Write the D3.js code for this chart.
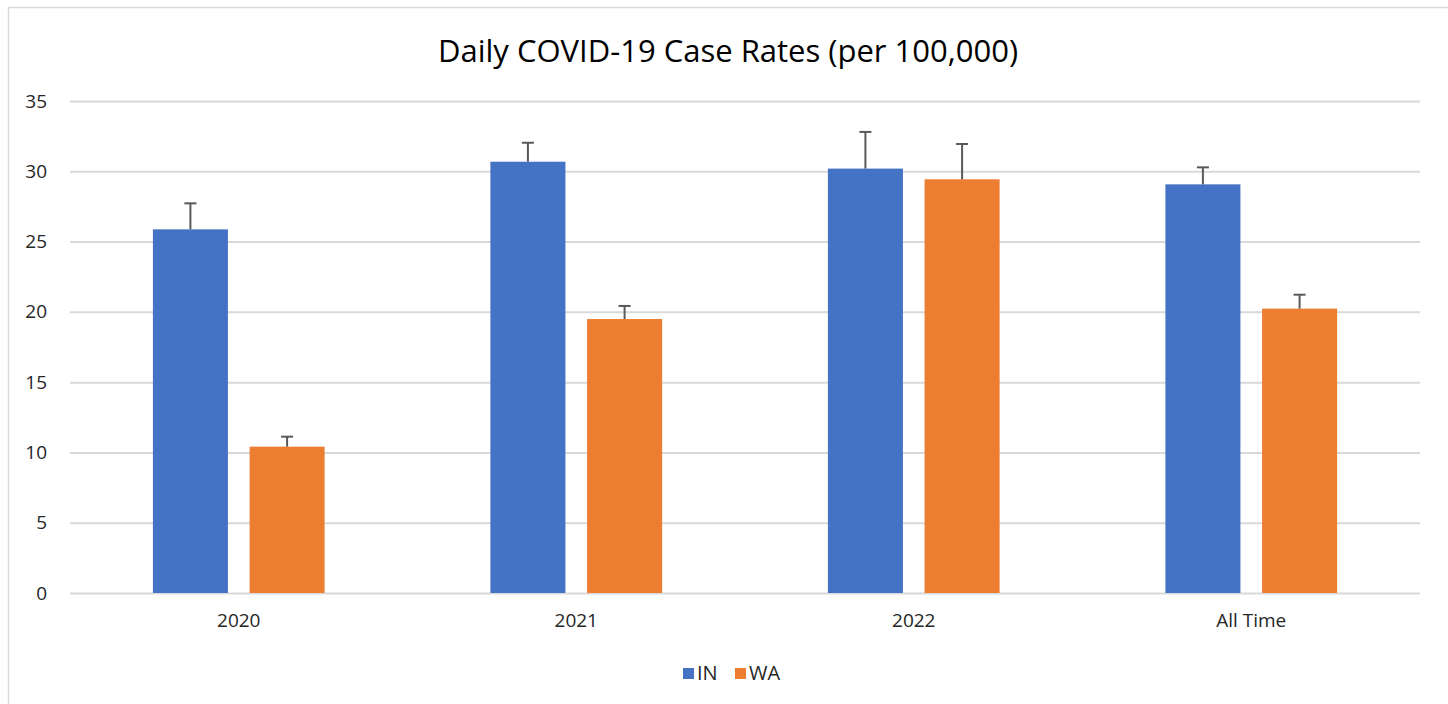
<!DOCTYPE html>
<html><head><meta charset="utf-8">
<script src="https://cdn.jsdelivr.net/npm/d3@7"></script>
<style>body{margin:0;background:#fff}svg{display:block}</style>
</head><body>
<svg id="c" width="1448" height="704"></svg>
<script>
const categories = ["2020", "2021", "2022", "All Time"];
const seriesNames = ["IN", "WA"];
const inValues = [25.87, 30.68, 30.19, 29.07];
const waValues = [10.41, 19.49, 29.43, 20.23];
const inErrors = [1.85, 1.35, 2.61, 1.21];
const waErrors = [0.71, 0.93, 2.51, 0.99];
const yTicks = [0, 5, 10, 15, 20, 25, 30, 35];
const colors = ["#4472c4", "#ed7d31"];
const title = "Daily COVID-19 Case Rates (per 100,000)";

(function () {
const font = "Open Sans, sans-serif";
const svg = d3.select("#c");
const W = 1448, H = 704;
const pLeft = 70, pRight = 1420, pTop = 101, pBottom = 593;

// chart border
svg.append("rect").attr("x", 8.5).attr("y", 7.5).attr("width", W).attr("height", H)
  .attr("fill", "#fff").attr("stroke", "#d9d9d9").attr("stroke-width", 1.5);

const y = d3.scaleLinear().domain([0, 35]).range([pBottom, pTop]);
const x0 = d3.scaleBand().domain(categories).range([pLeft, pRight]).padding(0);
const groupW = 171.7;
const x1 = d3.scaleBand().domain(seriesNames)
  .range([(x0.bandwidth() - groupW) / 2, (x0.bandwidth() + groupW) / 2])
  .paddingInner(0.224).paddingOuter(0);

// gridlines
const yAxis = d3.axisLeft(y).tickValues(yTicks).tickSize(-(pRight - pLeft)).tickPadding(23).tickFormat(d3.format("d"));
const gy = svg.append("g").attr("transform", `translate(${pLeft},0)`).call(yAxis);
gy.select(".domain").remove();
gy.selectAll(".tick line").attr("stroke", "#d9d9d9").attr("stroke-width", 2);
gy.selectAll(".tick text").attr("font-family", font).attr("font-size", 19).attr("fill", "#262626");

// x axis labels
const xAxis = d3.axisBottom(x0).tickSize(0).tickPadding(21);
const gx = svg.append("g").attr("transform", `translate(0,${pBottom})`).call(xAxis);
gx.select(".domain").remove();
gx.selectAll(".tick text").attr("font-family", font).attr("font-size", 19).attr("fill", "#262626");

const data = categories.map((c, i) => ({
  cat: c,
  vals: [
    { s: "IN", v: inValues[i], e: inErrors[i], col: colors[0] },
    { s: "WA", v: waValues[i], e: waErrors[i], col: colors[1] }
  ]
}));

const groups = svg.append("g").selectAll("g").data(data).join("g")
  .attr("transform", d => `translate(${x0(d.cat)},0)`);

groups.selectAll("rect").data(d => d.vals).join("rect")
  .attr("x", d => x1(d.s)).attr("width", x1.bandwidth())
  .attr("y", d => y(d.v)).attr("height", d => y(0) - y(d.v))
  .attr("fill", d => d.col);

// error bars (plus direction)
const eb = groups.selectAll("g.err").data(d => d.vals).join("g").attr("class", "err");
eb.append("line")
  .attr("x1", d => x1(d.s) + x1.bandwidth() / 2).attr("x2", d => x1(d.s) + x1.bandwidth() / 2)
  .attr("y1", d => y(d.v)).attr("y2", d => y(d.v + d.e))
  .attr("stroke", "#595959").attr("stroke-width", 2);
eb.append("line")
  .attr("x1", d => x1(d.s) + x1.bandwidth() / 2 - 6).attr("x2", d => x1(d.s) + x1.bandwidth() / 2 + 6)
  .attr("y1", d => y(d.v + d.e)).attr("y2", d => y(d.v + d.e))
  .attr("stroke", "#595959").attr("stroke-width", 2);

// title
svg.append("text").attr("x", 728).attr("y", 62).attr("text-anchor", "middle")
  .attr("font-family", font).attr("font-size", 31).attr("fill", "#000").text(title);

// legend
const lg = svg.append("g").attr("transform", "translate(683,668)");
const items = lg.selectAll("g").data(seriesNames).join("g")
  .attr("transform", (d, i) => `translate(${i * 52},0)`);
items.append("rect").attr("width", 11).attr("height", 11).attr("fill", (d, i) => colors[i]);
items.append("text").attr("x", 14).attr("y", 12).attr("font-family", font).attr("font-size", 20)
  .attr("fill", "#262626").text(d => d);
})();
</script>
</body></html>
